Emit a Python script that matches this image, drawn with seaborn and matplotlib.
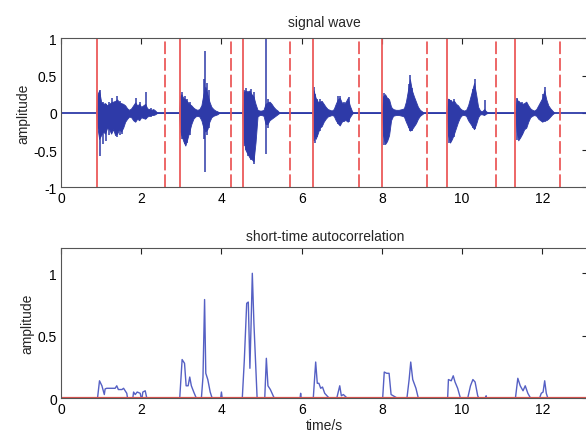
import numpy as np
import pandas as pd
import matplotlib
matplotlib.use("Agg")
import matplotlib.pyplot as plt
import seaborn as sns

# ---------------- data ----------------
# signal envelope (time in s, upper and lower amplitude)
env_t = [0.88, 0.91, 0.95, 1.00, 1.05, 1.10, 1.15, 1.20, 1.25, 1.30, 1.35, 1.40, 1.45, 1.50, 1.55, 1.60,
         1.65, 1.70, 1.75, 1.80, 1.85, 1.90, 1.95, 2.00, 2.05, 2.10, 2.15, 2.20, 2.25, 2.30, 2.35, 2.40,
         2.94, 2.97, 3.00, 3.05, 3.10, 3.15, 3.20, 3.25, 3.30, 3.35, 3.40, 3.45, 3.50, 3.55, 3.60, 3.65,
         3.70, 3.75, 3.80, 3.85, 3.90, 3.95,
         4.52, 4.55, 4.60, 4.65, 4.70, 4.75, 4.80, 4.85, 4.90, 4.95, 5.00, 5.05, 5.10, 5.15, 5.20, 5.25,
         5.30, 5.35, 5.40, 5.45,
         6.27, 6.30, 6.35, 6.40, 6.45, 6.50, 6.55, 6.60, 6.65, 6.70, 6.75, 6.80, 6.85, 6.90, 6.95, 7.00,
         7.05, 7.10, 7.15, 7.20, 7.25, 7.28,
         8.00, 8.03, 8.08, 8.13, 8.18, 8.23, 8.28, 8.35, 8.42, 8.50, 8.55, 8.60, 8.65, 8.70, 8.75, 8.80,
         8.85, 8.90, 8.95, 9.00, 9.05,
         9.62, 9.65, 9.70, 9.75, 9.80, 9.85, 9.90, 9.95, 10.00, 10.05, 10.10, 10.15, 10.20, 10.25, 10.30,
         10.35, 10.40, 10.45, 10.50, 10.55, 10.60, 10.65,
         11.33, 11.36, 11.40, 11.45, 11.50, 11.55, 11.60, 11.65, 11.70, 11.75, 11.80, 11.85, 11.90, 11.95,
         12.00, 12.05, 12.10, 12.15, 12.20, 12.25, 12.30]
env_hi = [0, 0.25, 0.30, 0.15, 0.12, 0.13, 0.10, 0.12, 0.14, 0.15, 0.16, 0.18, 0.14, 0.13, 0.12, 0.10,
          0.06, 0.04, 0.06, 0.10, 0.14, 0.10, 0.12, 0.08, 0.10, 0.12, 0.06, 0.05, 0.04, 0.05, 0.03, 0,
          0, 0.22, 0.25, 0.20, 0.18, 0.15, 0.12, 0.10, 0.07, 0.05, 0.04, 0.05, 0.10, 0.25, 0.35, 0.25,
          0.15, 0.08, 0.05, 0.03, 0.02, 0,
          0, 0.28, 0.30, 0.27, 0.30, 0.25, 0.22, 0.12, 0.04, 0.03, 0.03, 0.04, 0.12, 0.14, 0.15, 0.12,
          0.08, 0.05, 0.03, 0,
          0, 0.30, 0.20, 0.15, 0.15, 0.16, 0.12, 0.08, 0.05, 0.04, 0.03, 0.05, 0.12, 0.18, 0.20, 0.14,
          0.12, 0.15, 0.20, 0.10, 0.03, 0,
          0, 0.22, 0.25, 0.20, 0.18, 0.08, 0.05, 0.04, 0.04, 0.05, 0.06, 0.15, 0.30, 0.45, 0.30, 0.22,
          0.15, 0.08, 0.04, 0.02, 0,
          0, 0.19, 0.17, 0.15, 0.16, 0.12, 0.10, 0.06, 0.04, 0.03, 0.04, 0.10, 0.20, 0.30, 0.40,
          0.25, 0.08, 0.03, 0.02, 0.05, 0.02, 0,
          0, 0.19, 0.15, 0.14, 0.12, 0.13, 0.15, 0.10, 0.06, 0.04, 0.03, 0.05, 0.10, 0.15,
          0.20, 0.30, 0.18, 0.10, 0.06, 0.03, 0]
env_lo = [0, -0.20, -0.35, -0.30, -0.25, -0.28, -0.20, -0.22, -0.28, -0.22, -0.30, -0.28, -0.22, -0.25, -0.20, -0.12,
          -0.08, -0.05, -0.06, -0.10, -0.12, -0.08, -0.10, -0.06, -0.07, -0.08, -0.05, -0.04, -0.03, -0.03, -0.02, 0,
          0, -0.25, -0.30, -0.38, -0.44, -0.35, -0.25, -0.15, -0.08, -0.05, -0.04, -0.05, -0.10, -0.20, -0.25, -0.22,
          -0.12, -0.06, -0.04, -0.03, -0.02, 0,
          0, -0.35, -0.50, -0.55, -0.60, -0.62, -0.65, -0.40, -0.05, -0.03, -0.03, -0.04, -0.15, -0.15, -0.10, -0.08,
          -0.06, -0.04, -0.02, 0,
          0, -0.30, -0.35, -0.28, -0.20, -0.18, -0.12, -0.08, -0.05, -0.04, -0.03, -0.04, -0.10, -0.14, -0.17, -0.12,
          -0.10, -0.10, -0.12, -0.06, -0.02, 0,
          0, -0.30, -0.42, -0.38, -0.30, -0.10, -0.04, -0.03, -0.03, -0.04, -0.05, -0.12, -0.18, -0.24, -0.22, -0.18,
          -0.14, -0.08, -0.04, -0.02, 0,
          0, -0.30, -0.40, -0.35, -0.28, -0.20, -0.12, -0.06, -0.03, -0.03, -0.04, -0.10, -0.14, -0.18, -0.22,
          -0.15, -0.06, -0.02, -0.02, -0.03, -0.01, 0,
          0, -0.25, -0.37, -0.33, -0.28, -0.22, -0.20, -0.12, -0.06, -0.04, -0.03, -0.04, -0.08, -0.10,
          -0.12, -0.10, -0.10, -0.08, -0.05, -0.02, 0]

# isolated spikes of the signal
spike_t = [0.97, 1.05, 1.12, 1.20, 1.28, 1.39, 1.46, 1.52, 1.88, 1.98, 2.12, 2.25,
           3.02, 3.08, 3.14, 3.22, 3.56, 3.60, 3.64, 3.68,
           4.57, 4.62, 4.67, 4.73, 4.77, 4.81, 5.12, 5.16,
           6.30, 6.33, 6.38, 6.45, 6.90, 6.95, 7.05, 7.18,
           8.05, 8.10, 8.16, 8.67, 8.71, 8.76,
           9.68, 9.73, 9.80, 10.27, 10.31, 10.56,
           11.38, 11.43, 11.50, 12.03, 12.06]
spike_hi = [0.31, 0.15, 0.12, 0.14, 0.20, 0.22, 0.16, 0.12, 0.20, 0.15, 0.28, 0.07,
            0.28, 0.22, 0.18, 0.14, 0.45, 0.83, 0.40, 0.30,
            0.30, 0.33, 0.29, 0.32, 0.24, 0.28, 0.99, 0.18,
            0.34, 0.25, 0.18, 0.18, 0.22, 0.22, 0.15, 0.21,
            0.26, 0.22, 0.20, 0.38, 0.51, 0.33,
            0.18, 0.17, 0.18, 0.32, 0.46, 0.17,
            0.20, 0.16, 0.14, 0.25, 0.35]
spike_lo = [-0.58, -0.42, -0.38, -0.30, -0.25, -0.32, -0.30, -0.28, -0.10, -0.08, -0.08, -0.05,
            -0.35, -0.42, -0.40, -0.30, -0.35, -0.80, -0.30, -0.20,
            -0.45, -0.50, -0.58, -0.64, -0.55, -0.69, -0.55, -0.20,
            -0.38, -0.40, -0.32, -0.25, -0.15, -0.17, -0.12, -0.13,
            -0.43, -0.40, -0.35, -0.20, -0.25, -0.24,
            -0.40, -0.38, -0.32, -0.20, -0.22, -0.03,
            -0.37, -0.34, -0.30, -0.12, -0.12]

# silence (zero line)
silence_t = [0.0, 13.2]
silence_v = [0.0, 0.0]

# endpoint detection lines
start_pts = [0.91, 2.96, 4.54, 6.28, 8.01, 9.63, 11.33]
end_pts = [2.60, 4.24, 5.70, 7.43, 9.12, 10.84, 12.43]

# short-time autocorrelation
ac_t = [0.0, 0.91, 0.96, 1.02, 1.08, 1.10, 1.14, 1.18, 1.26, 1.35, 1.39, 1.43, 1.52, 1.56, 1.60, 1.64, 1.66,
        1.79, 1.81, 1.85, 1.90, 1.975, 2.00, 2.02, 2.04, 2.10, 2.14,
        2.96, 3.02, 3.08, 3.12, 3.17, 3.21, 3.25, 3.31, 3.375,
        3.50, 3.54, 3.58, 3.61, 3.66, 3.72, 3.77,
        3.98, 4.00, 4.02,
        4.52, 4.57, 4.63, 4.67, 4.71, 4.74, 4.77, 4.81, 4.85, 4.89,
        5.08, 5.12, 5.16, 5.22, 5.29, 5.32,
        5.96, 5.975, 5.99,
        6.29, 6.35, 6.39, 6.43, 6.475, 6.52, 6.575, 6.66, 6.70,
        6.875, 6.95, 6.99, 7.04, 7.14,
        8.02, 8.06, 8.12, 8.18, 8.23, 8.39,
        8.625, 8.68, 8.72, 8.77, 8.85, 8.91,
        9.64, 9.66, 9.73, 9.78, 9.825, 9.89, 9.96,
        10.14, 10.21, 10.27, 10.325, 10.39, 10.42,
        10.59, 10.60, 10.61,
        11.33, 11.39, 11.45, 11.52, 11.575, 11.64, 11.71,
        11.93, 11.975, 12.02, 12.06, 12.10, 12.14, 13.2]
ac_v = [0.0, 0.0, 0.14, 0.10, 0.03, 0.075, 0.08, 0.08, 0.08, 0.08, 0.10, 0.07, 0.07, 0.08, 0.06, 0.04, 0.0,
        0.0, 0.05, 0.03, 0.05, 0.04, 0.0, 0.0, 0.05, 0.06, 0.0,
        0.0, 0.31, 0.28, 0.10, 0.10, 0.17, 0.10, 0.05, 0.0,
        0.0, 0.17, 0.79, 0.20, 0.15, 0.05, 0.0,
        0.0, 0.05, 0.0,
        0.0, 0.30, 0.76, 0.77, 0.24, 0.60, 1.0, 0.60, 0.30, 0.0,
        0.0, 0.32, 0.10, 0.07, 0.02, 0.0,
        0.0, 0.04, 0.0,
        0.0, 0.29, 0.12, 0.12, 0.08, 0.09, 0.04, 0.01, 0.0,
        0.0, 0.10, 0.02, 0.03, 0.0,
        0.0, 0.21, 0.20, 0.20, 0.03, 0.0,
        0.0, 0.15, 0.29, 0.15, 0.08, 0.0,
        0.0, 0.15, 0.14, 0.18, 0.13, 0.08, 0.0,
        0.0, 0.10, 0.15, 0.13, 0.02, 0.0,
        0.0, 0.02, 0.0,
        0.0, 0.16, 0.10, 0.06, 0.10, 0.04, 0.0,
        0.0, 0.04, 0.05, 0.14, 0.04, 0.0, 0.0]

x_ticks = [0, 2, 4, 6, 8, 10, 12]
top_yticks = [-1, -0.5, 0, 0.5, 1]
top_ylabels = ["-1", "-0.5", "0", "0.5", "1"]
bot_yticks = [0, 0.5, 1]
bot_ylabels = ["0", "0.5", "1"]

# ---------------- styling ----------------
sns.set_theme(style="white")
plt.rcParams['font.family'] = ['Liberation Sans', 'DejaVu Sans']
plt.rcParams['axes.unicode_minus'] = False

WAVE = "#2e3aa8"
AC = "#5560c4"
RED = "#ec5a5a"

fig = plt.figure(figsize=(5.86, 4.35), dpi=100)
ax1 = fig.add_axes([0.1041, 0.5671, 0.9000, 0.3426])
ax2 = fig.add_axes([0.1041, 0.0821, 0.9000, 0.3448])

# ---- top: signal wave ----
sig = pd.DataFrame({"t": silence_t, "v": silence_v})
sns.lineplot(data=sig, x="t", y="v", ax=ax1, color=WAVE, lw=1.3, legend=False)
ax1.fill_between(env_t, env_lo, env_hi, color=WAVE, lw=0.6, edgecolor=WAVE)
ax1.vlines(spike_t, spike_lo, spike_hi, color=WAVE, lw=1.1)
for s in start_pts:
    ax1.axvline(s, color=RED, lw=1.3)
for e in end_pts:
    ax1.axvline(e, color=RED, lw=1.3, ls=(0, (7, 2.2)))
ax1.set_xlim(0, 13.15)
ax1.set_ylim(-1, 1)
ax1.set_title("signal wave", fontsize=10, pad=9)
ax1.set_ylabel("amplitude", fontsize=10, labelpad=2)
ax1.set_xlabel("")

# ---- bottom: short-time autocorrelation ----
acd = pd.DataFrame({"t": ac_t, "v": ac_v})
sns.lineplot(data=acd, x="t", y="v", ax=ax2, color=AC, lw=1.0, sort=False,
             estimator=None, legend=False)
sns.lineplot(data=sig, x="t", y="v", ax=ax2, color="#d9534f", lw=1.6, legend=False)
ax2.set_xlim(0, 13.15)
ax2.set_ylim(0, 1.2)
ax2.set_title("short-time autocorrelation", fontsize=10, pad=6)
ax2.set_ylabel("amplitude", fontsize=10, labelpad=2)
ax2.set_xlabel("time/s", fontsize=10, labelpad=1)

for ax, yt, yl in [(ax1, top_yticks, top_ylabels), (ax2, bot_yticks, bot_ylabels)]:
    ax.set_xticks(x_ticks)
    ax.set_xticklabels([str(v) for v in x_ticks])
    ax.set_yticks(yt)
    ax.set_yticklabels(yl)
    ax.tick_params(direction="in", length=4, width=0.8, top=True, right=True,
                   labelsize=10, pad=3, colors="#222222", labelcolor="black")
    for sp in ax.spines.values():
        sp.set_color("#555555")
        sp.set_linewidth(0.8)
    ax.set_facecolor("white")

fig.savefig("out.png", dpi=100)
